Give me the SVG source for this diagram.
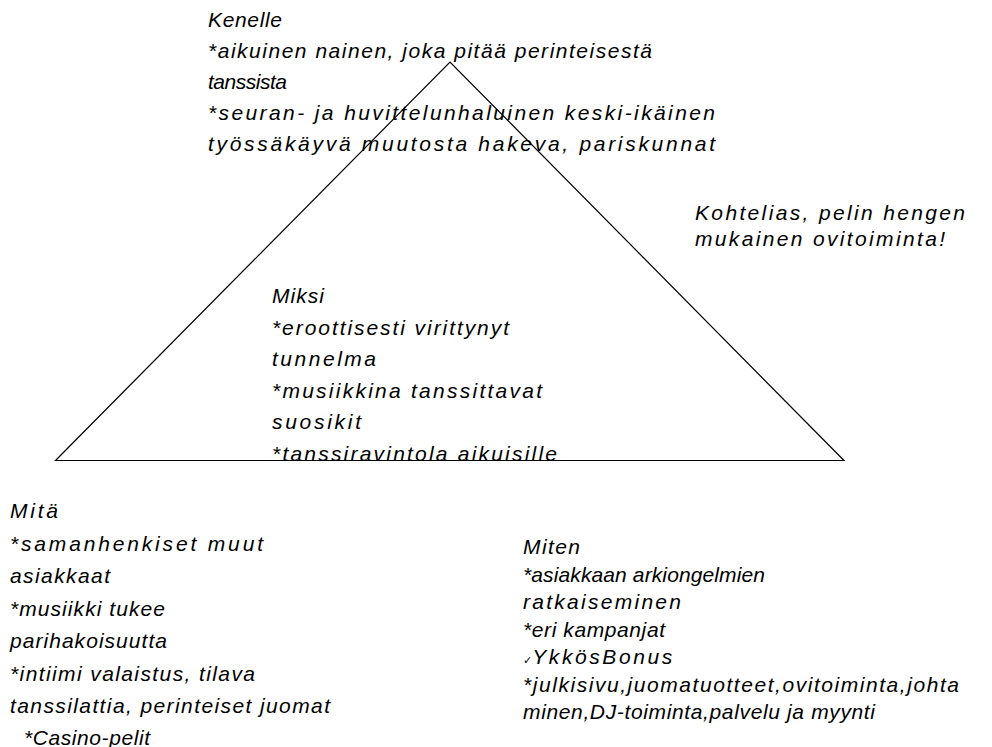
<svg xmlns="http://www.w3.org/2000/svg" width="992" height="747" viewBox="0 0 992 747">
<style>
text{font-family:"Liberation Sans",Arial,sans-serif;font-style:italic;font-size:21px;fill:#000}
.tri{fill:none;stroke:#000;stroke-width:1.2}
.chk{font-family:"DejaVu Sans",sans-serif;font-style:normal;font-size:11px}
</style>
<rect width="992" height="747" fill="#fff"/>
<g id="connectors">
<polygon class="tri" points="55.5,460.5 450,62 844,460.5"/>
</g>
<g id="kenelle">
<text x="208" y="27" textLength="74" lengthAdjust="spacing">Kenelle</text>
<text x="208" y="58" textLength="444" lengthAdjust="spacing">*aikuinen nainen, joka pitää perinteisestä</text>
<text x="208" y="89" textLength="79" lengthAdjust="spacing">tanssista</text>
<text x="208" y="120" textLength="507" lengthAdjust="spacing">*seuran- ja huvittelunhaluinen keski-ikäinen</text>
<text x="208" y="151" textLength="507" lengthAdjust="spacing">työssäkäyvä muutosta hakeva, pariskunnat</text>
</g>
<g id="kohtelias">
<text x="695" y="220" textLength="270" lengthAdjust="spacing">Kohtelias, pelin hengen</text>
<text x="695" y="246" textLength="250" lengthAdjust="spacing">mukainen ovitoiminta!</text>
</g>
<g id="miksi">
<text x="272" y="303" textLength="52" lengthAdjust="spacing">Miksi</text>
<text x="272" y="334.5" textLength="237" lengthAdjust="spacing">*eroottisesti virittynyt</text>
<text x="272" y="366" textLength="104" lengthAdjust="spacing">tunnelma</text>
<text x="272" y="397.5" textLength="270" lengthAdjust="spacing">*musiikkina tanssittavat</text>
<text x="272" y="429" textLength="89" lengthAdjust="spacing">suosikit</text>
<text x="272" y="460.5" textLength="285" lengthAdjust="spacing">*tanssiravintola aikuisille</text>
</g>
<g id="mita">
<text x="10" y="518" textLength="48" lengthAdjust="spacing">Mitä</text>
<text x="10" y="550.5" textLength="253" lengthAdjust="spacing">*samanhenkiset muut</text>
<text x="10" y="583" textLength="100" lengthAdjust="spacing">asiakkaat</text>
<text x="10" y="615.5" textLength="155" lengthAdjust="spacing">*musiikki tukee</text>
<text x="10" y="648" textLength="157" lengthAdjust="spacing">parihakoisuutta</text>
<text x="10" y="680.5" textLength="245" lengthAdjust="spacing">*intiimi valaistus, tilava</text>
<text x="10" y="713" textLength="320" lengthAdjust="spacing">tanssilattia, perinteiset juomat</text>
<text x="24" y="745" textLength="126" lengthAdjust="spacing">*Casino-pelit</text>
</g>
<g id="miten">
<text x="523" y="554" textLength="57" lengthAdjust="spacing">Miten</text>
<text x="523" y="581.5" textLength="242" lengthAdjust="spacing">*asiakkaan arkiongelmien</text>
<text x="523" y="609" textLength="158" lengthAdjust="spacing">ratkaiseminen</text>
<text x="523" y="636.5" textLength="142" lengthAdjust="spacing">*eri kampanjat</text>
<text x="523" y="664"><tspan class="chk">✓</tspan><tspan textLength="140" lengthAdjust="spacing">YkkösBonus</tspan></text>
<text x="523" y="691.5" textLength="436" lengthAdjust="spacing">*julkisivu,juomatuotteet,ovitoiminta,johta</text>
<text x="523" y="719" textLength="352" lengthAdjust="spacing">minen,DJ-toiminta,palvelu ja myynti</text>
</g>
</svg>
